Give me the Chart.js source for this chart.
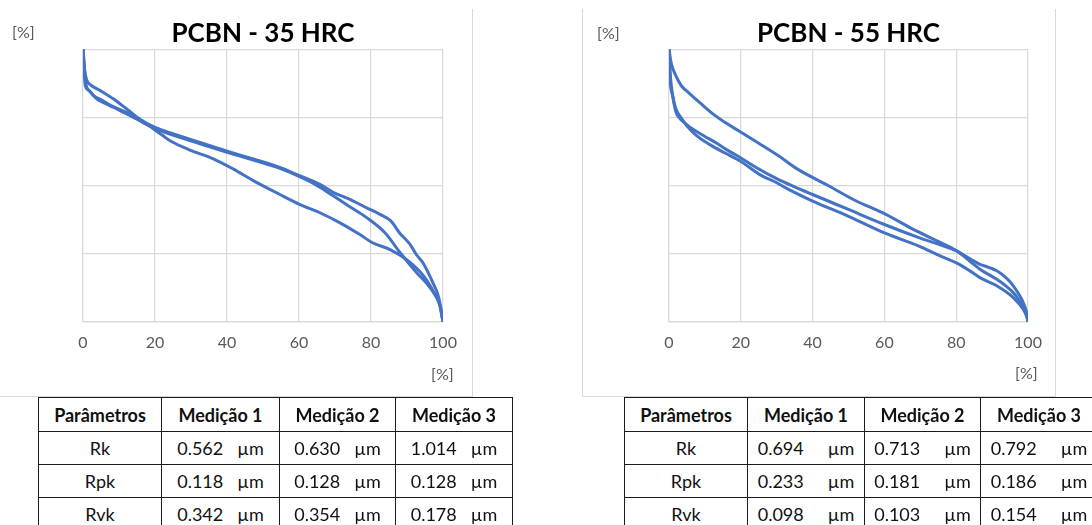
<!DOCTYPE html>
<html><head><meta charset="utf-8">
<script src="https://cdn.jsdelivr.net/npm/chart.js@4.4.1/dist/chart.umd.min.js"></script>
<style>
html,body{margin:0;padding:0;background:#fff;}
body{width:1092px;height:525px;overflow:hidden;position:relative;font-family:Lato,'Open Sans',sans-serif;}
.frame{position:absolute;border:1px solid #d9d9d9;border-top:none;box-sizing:border-box;}
.cv{position:absolute;top:0;}
.lbl{position:absolute;font-family:Lato,sans-serif;font-size:16px;color:#595959;line-height:16px;white-space:nowrap;}
table{position:absolute;top:397px;border-collapse:collapse;table-layout:fixed;font-family:Lato,sans-serif;font-size:18px;color:#111;}
td,th{border:1px solid #1a1a1a;text-align:center;padding:0;white-space:nowrap;overflow:hidden;}
th{font-weight:bold;height:33px;}
td{height:32px;}
.tl .u{margin-left:14px;}
.tr .u{margin-left:24px;}
</style></head>
<body>
<div class="frame" style="left:-1px;top:9px;width:474px;height:388px;"></div>
<div class="frame" style="left:582px;top:9px;width:474px;height:388px;"></div>
<canvas id="c35" class="cv" style="left:0px" width="472" height="396"></canvas>
<canvas id="c55" class="cv" style="left:582px" width="473" height="396"></canvas>
<div class="lbl" style="left:12px;top:24px;">[%]</div>
<div class="lbl" style="left:431px;top:366px;">[%]</div>
<div class="lbl" style="left:597px;top:25px;">[%]</div>
<div class="lbl" style="left:1015px;top:365px;">[%]</div>
<div id="tables"></div>
<script>
// ---------- data: PCBN - 35 HRC (bearing ratio [%] vs height [%]) ----------
const H35_M1_X = [0, 0.5, 1, 2, 4.7, 8.4, 12.1, 15.8, 20, 25.1, 32.5, 40.3, 47.3, 54.7, 60.3, 65.8, 69.5, 74, 78.8, 82.5, 85.5, 88, 90.8, 92.7, 94.5, 97.3, 98.8, 100];
const H35_M1_Y = [100, 92, 88.8, 87, 84.9, 81.8, 78.1, 74.3, 71.3, 68.9, 65.8, 62.5, 59.7, 56.6, 53.5, 50.4, 47.5, 45, 41.8, 39.4, 37, 32.5, 28.5, 24.5, 21.5, 14, 9, 0];
const H35_M2_X = [0, 0.6, 1.5, 2.9, 5, 7.5, 10, 12.1, 14.5, 16.8, 20, 25, 32.5, 40, 47.3, 54.7, 60.3, 63, 65.8, 69.5, 74, 78.8, 84, 88, 92.7, 95.5, 97.5, 99, 100];
const H35_M2_Y = [100, 87, 85, 83, 81.5, 79.5, 78, 76.8, 74.8, 73, 71, 68.5, 65.3, 62.2, 59.3, 56.3, 53.2, 51.5, 49.4, 46.2, 42.3, 38.2, 32.5, 25.5, 18, 14, 10.5, 6.5, 0];
const H35_M3_X = [0, 0.8, 2, 3.8, 6, 8.4, 11, 14, 17, 20, 22, 24.2, 29.7, 36.2, 41.8, 47.3, 54.7, 60.3, 65.8, 71.4, 76.9, 80.4, 85.3, 89.9, 94.5, 97.8, 99.3, 100];
const H35_M3_Y = [100, 87.3, 84.5, 81.8, 80.2, 78.7, 77, 75, 73, 70.4, 68.5, 66.4, 63, 59.8, 56, 51.8, 46.7, 43, 40, 36.3, 32, 29, 26.5, 22.8, 17, 10, 5.5, 0];

// ---------- data: PCBN - 55 HRC ----------
const H55_M1_X = [0, 0.6, 2, 3.5, 5.5, 8.5, 12.5, 16, 19.5, 25, 30.6, 35.8, 44.3, 51.9, 60.4, 67.9, 74.5, 80.2, 84, 86.6, 91.3, 94, 95.9, 97.5, 98.7, 99.6, 100];
const H55_M1_Y = [100, 95, 90, 86.5, 84, 80.5, 76, 72.8, 70, 65.5, 60.8, 56, 50, 44.5, 39.4, 34, 29.8, 26, 22, 19.3, 15.6, 13, 10.7, 8, 5.5, 3, 0];
const H55_M2_X = [0, 0.3, 1, 1.9, 3.1, 4.5, 6.8, 10, 13.3, 16.5, 19.8, 24.4, 30, 35, 40, 50, 60, 69.8, 75, 80.1, 84, 86.6, 89, 91.3, 94, 95.9, 97.5, 98.7, 99.5, 100];
const H55_M2_Y = [100, 89, 83, 77, 74.5, 72.8, 70.5, 68, 65.5, 62.8, 60.3, 56.5, 52.5, 49.5, 46.7, 41.2, 35.7, 30.8, 28.5, 26, 23, 21.1, 20, 18.7, 16, 13.2, 10, 7, 4, 0];
const H55_M3_X = [0, 0.4, 0.8, 1.4, 2.1, 3.3, 4.9, 7.5, 11.4, 15.5, 19.8, 25.3, 30, 33.7, 40, 50, 60, 69.8, 75, 80.2, 84, 86.6, 91.3, 95.9, 98.7, 99.6, 100];
const H55_M3_Y = [100, 90, 85, 80.5, 77.5, 75, 72, 68.5, 65, 62, 59, 54, 51, 48.3, 44.3, 38.7, 32.6, 27.7, 24.5, 21.5, 18.5, 16.2, 13.2, 8.9, 4.5, 2, 0];

// ---------- axis ticks ----------
const X_MIN = 0, X_MAX = 100, X_STEP = 20;
const Y_MIN = 0, Y_MAX = 100, Y_STEP = 25;

// ---------- tables ----------
const TABLE_HEAD = ['Parâmetros', 'Medição 1', 'Medição 2', 'Medição 3'];
const PARAMS = ['Rk', 'Rpk', 'Rvk'];
const T35_M1 = ['0.562', '0.118', '0.342'];
const T35_M2 = ['0.630', '0.128', '0.354'];
const T35_M3 = ['1.014', '0.128', '0.178'];
const T55_M1 = ['0.694', '0.233', '0.098'];
const T55_M2 = ['0.713', '0.181', '0.103'];
const T55_M3 = ['0.792', '0.186', '0.154'];
const UNIT = 'µm';

const BLUE = '#4472C4';
const GRID = '#d9d9d9';

function buildTable(cls, left, widths, cols) {
  let h = '<table class="' + cls + '" style="left:' + left + 'px;width:' + widths.reduce((a, b) => a + b, 0) + 'px"><colgroup>';
  widths.forEach(w => h += '<col style="width:' + w + 'px">');
  h += '</colgroup><tr>';
  TABLE_HEAD.forEach(t => h += '<th>' + t + '</th>');
  h += '</tr>';
  PARAMS.forEach((p, i) => {
    h += '<tr><td>' + p + '</td>';
    cols.forEach(c => h += '<td>' + c[i] + '<span class="u">' + UNIT + '</span></td>');
    h += '</tr>';
  });
  return h + '</table>';
}
document.getElementById('tables').innerHTML =
  buildTable('tl', 38, [123, 118, 116, 117], [T35_M1, T35_M2, T35_M3]) +
  buildTable('tr', 624, [123, 117, 116, 117], [T55_M1, T55_M2, T55_M3]);

function series(xs, ys, label) {
  return {
    label: label,
    data: xs.map((x, i) => ({ x: x, y: ys[i] })),
    showLine: true, borderColor: BLUE, backgroundColor: BLUE, borderWidth: 3,
    pointRadius: 0, pointHoverRadius: 0, fill: false, cubicInterpolationMode: 'monotone'
  };
}

function makeChart(id, title, sets, padL, padR) {
  return new Chart(document.getElementById(id), {
    type: 'scatter',
    data: { datasets: sets },
    options: {
      responsive: false, animation: false, devicePixelRatio: 1,
      layout: { padding: { left: padL, right: padR, top: 0, bottom: 33 } },
      plugins: {
        legend: { display: false }, tooltip: { enabled: false },
        title: { display: true, text: title, color: '#000',
          font: { family: 'Lato', size: 26, weight: 'bold', lineHeight: 1.2 },
          padding: { top: 18, bottom: 0 } }
      },
      scales: {
        x: { type: 'linear', min: X_MIN, max: X_MAX,
          ticks: { stepSize: X_STEP, padding: 11, color: '#595959', font: { family: 'Lato', size: 16 } },
          grid: { color: GRID, lineWidth: 1.2, drawTicks: false }, border: { color: GRID, width: 1.2 } },
        y: { type: 'linear', min: Y_MIN, max: Y_MAX,
          ticks: { stepSize: Y_STEP, display: false },
          grid: { color: GRID, lineWidth: 1.2, drawTicks: false }, border: { color: GRID, width: 1.2 } }
      }
    }
  });
}

function draw() {
  makeChart('c35', 'PCBN - 35 HRC', [
    series(H35_M1_X, H35_M1_Y, 'Medição 1'),
    series(H35_M2_X, H35_M2_Y, 'Medição 2'),
    series(H35_M3_X, H35_M3_Y, 'Medição 3')
  ], 83, 29);
  makeChart('c55', 'PCBN - 55 HRC', [
    series(H55_M1_X, H55_M1_Y, 'Medição 1'),
    series(H55_M2_X, H55_M2_Y, 'Medição 2'),
    series(H55_M3_X, H55_M3_Y, 'Medição 3')
  ], 87, 27);
}
Promise.all([
  document.fonts.load('bold 26px Lato'),
  document.fonts.load('16px Lato')
]).then(draw, draw);
</script>
</body></html>
